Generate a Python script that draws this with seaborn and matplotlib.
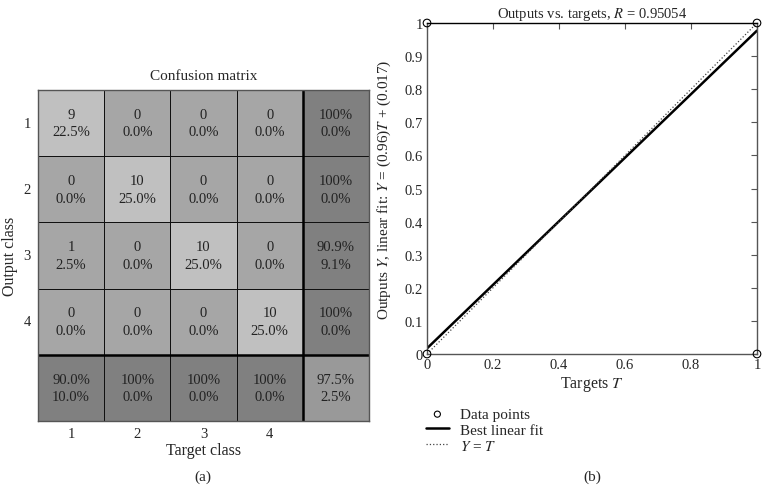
import numpy as np
import matplotlib
matplotlib.use("Agg")
import matplotlib.pyplot as plt
from matplotlib.colors import ListedColormap
import seaborn as sns

# ---- data ----
classes = ["1", "2", "3", "4"]
counts = np.array([[9, 0, 0, 0],
                   [0, 10, 0, 0],
                   [1, 0, 10, 0],
                   [0, 0, 0, 10]])
total = 40
row_correct = [100, 100, 90.9, 100]
col_correct = [90.0, 100, 100, 100]
overall_correct = 97.5

targets = [0, 1, 0, 1]
outputs = [0, 1, 1, 0]
fit_slope = 0.96
fit_intercept = 0.017
R_value = 0.95054
x_ticks = [0, 0.2, 0.4, 0.6, 0.8, 1]
y_ticks = [0, 0.1, 0.2, 0.3, 0.4, 0.5, 0.6, 0.7, 0.8, 0.9, 1]

sns.set_style("white")
plt.rcParams["font.family"] = ["Liberation Serif", "DejaVu Serif"]
plt.rcParams["mathtext.fontset"] = "stix"

fig = plt.figure(figsize=(7.68, 5.02), dpi=100)

# ---- confusion matrix ----
def pct(v):
    return "100%" if v == 100 else f"{v:.1f}%"

n = len(classes)
cat = np.zeros((n + 1, n + 1))
labels = np.empty((n + 1, n + 1), dtype=object)
for i in range(n):
    for j in range(n):
        cat[i, j] = 1 if i == j else 0
        labels[i, j] = f"{counts[i, j]}\n{100 * counts[i, j] / total:.1f}%"
    cat[i, n] = 2
    labels[i, n] = f"{pct(row_correct[i])}\n{100 - row_correct[i]:.1f}%"
    cat[n, i] = 2
    labels[n, i] = f"{pct(col_correct[i])}\n{100 - col_correct[i]:.1f}%"
cat[n, n] = 3
labels[n, n] = f"{pct(overall_correct)}\n{100 - overall_correct:.1f}%"

cmap = ListedColormap(["#a6a6a6", "#c0c0c0", "#808080", "#999999"])
ax1 = fig.add_axes([38 / 768, 1 - 422 / 502, 331 / 768, 331 / 502])
sns.heatmap(cat, ax=ax1, cmap=cmap, vmin=-0.5, vmax=3.5, cbar=False,
            annot=labels, fmt="", linewidths=0.7, linecolor="#111111",
            annot_kws={"fontsize": 10.5, "color": "#222222", "linespacing": 1.45,
                       "multialignment": "center"})
ax1.axhline(n, color="black", lw=1.8)
ax1.axvline(n, color="black", lw=1.8)
for s in ax1.spines.values():
    s.set_visible(True)
    s.set_color("#555555")
    s.set_linewidth(1)
ax1.set_xticks(np.arange(n) + 0.5)
ax1.set_xticklabels(classes, fontsize=10.5)
ax1.set_yticks(np.arange(n) + 0.5)
ax1.set_yticklabels(classes, fontsize=10.5, rotation=0)
ax1.tick_params(axis="y", length=0, pad=5)
ax1.tick_params(axis="x", length=0, pad=4)
ax1.set_xlabel("Target class", fontsize=11.5, labelpad=2)
ax1.set_ylabel("Output class", fontsize=11.5, labelpad=4)
ax1.set_title("Confusion matrix", fontsize=11, pad=8)
fig.text(203 / 768, 1 - 477 / 502, "(a)", ha="center", va="center", fontsize=11)

# ---- regression plot ----
ax2 = fig.add_axes([427 / 768, 1 - 355 / 502, 330 / 768, 331 / 502])
xs = np.array([0, 1])
sns.lineplot(x=xs, y=fit_slope * xs + fit_intercept, ax=ax2, color="black",
             lw=1.8, label="Best linear fit")
sns.lineplot(x=xs, y=xs, ax=ax2, color="#444444", lw=0.9, linestyle=":",
             label=r"$Y$ = $T$")
sns.scatterplot(x=targets, y=outputs, ax=ax2, marker="o", s=30,
                facecolor="none", edgecolor="black", linewidth=0.8,
                label="Data points", clip_on=False, zorder=5)
ax2.set_xlim(0, 1)
ax2.set_ylim(0, 1)
ax2.set_xticks(x_ticks)
ax2.set_xticklabels([f"{t:g}" for t in x_ticks])
ax2.set_yticks(y_ticks)
ax2.set_yticklabels([f"{t:g}" for t in y_ticks])
ax2.tick_params(direction="in", length=4, top=True, right=True,
                labelsize=10.5, color="#555555", pad=3)
for s in ax2.spines.values():
    s.set_color("#555555")
    s.set_linewidth(1)
ax2.spines["top"].set_color("black")
ax2.set_xlabel(r"Targets $T$", fontsize=11.5, labelpad=2)
ax2.set_ylabel(r"Outputs $Y$, linear fit: $Y$ = (0.96)$T$ + (0.017)",
               fontsize=11, labelpad=8)
ax2.set_title(rf"Outputs vs. targets, $R$ = {R_value:.5f}", fontsize=10.5, pad=4)
h, l = ax2.get_legend_handles_labels()
order = [2, 0, 1]
ax2.legend([h[i] for i in order], [l[i] for i in order],
           loc="upper left", bbox_to_anchor=(-0.045, -0.12), frameon=False,
           fontsize=11, handlelength=1.5, handletextpad=0.7, labelspacing=0.12,
           markerscale=0.8)
fig.text(592 / 768, 1 - 477 / 502, "(b)", ha="center", va="center", fontsize=11)

fig.savefig("out.png", dpi=100)
